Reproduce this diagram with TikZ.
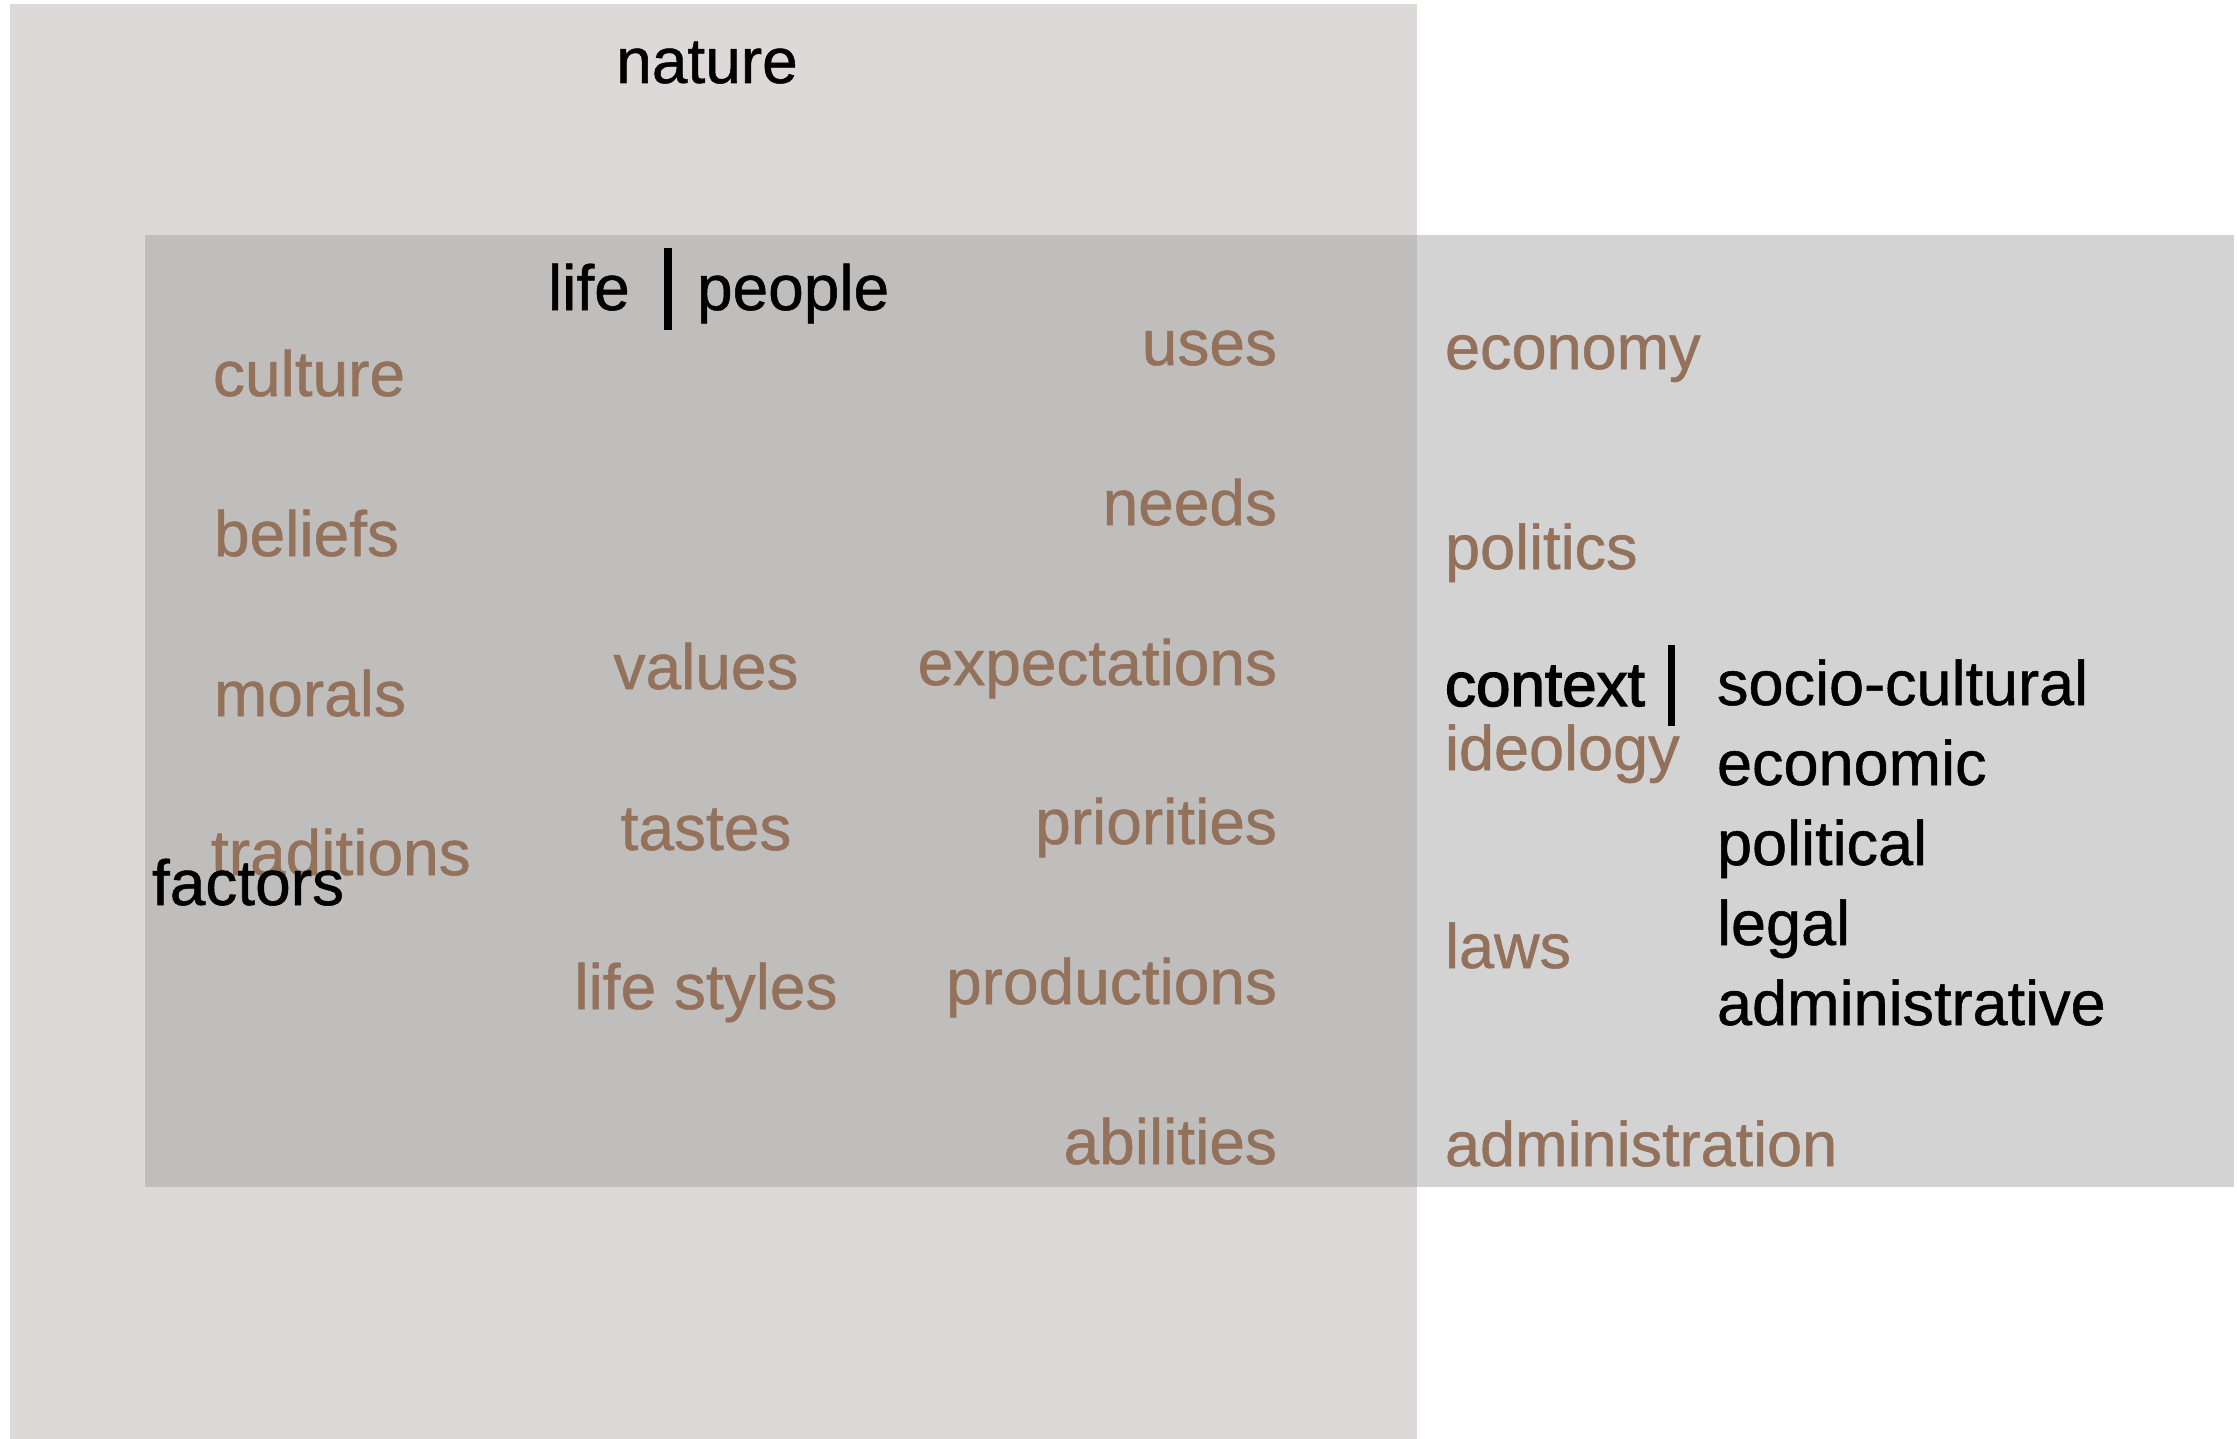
\documentclass[tikz,border=0pt]{standalone}
\usepackage{fontspec}
\setmainfont[FakeBold=0.8]{Liberation Sans}
\newfontfamily\ctxfont[FakeBold=2.2]{Liberation Sans}
\definecolor{outerbg}{RGB}{220,217,216}
\definecolor{overlapbg}{RGB}{192,190,188}
\definecolor{rightbg}{RGB}{211,211,211}
\definecolor{brown}{RGB}{147,113,91}
\tikzset{
  lbl/.style={inner sep=0pt, outer sep=0pt, font=\fontsize{64}{77}\selectfont},
  rlbl/.style={inner sep=0pt, outer sep=0pt, font=\fontsize{63}{76}\selectfont},
  brn/.style={text=brown},
  blk/.style={text=black},
}
\begin{document}
\begin{tikzpicture}[x=1pt,y=-1pt]
\useasboundingbox (0,0) rectangle (2237,1439);
% areas
\fill[outerbg] (10,4) rectangle (1417,1439);
\fill[rightbg] (1417,235) rectangle (2234,1187);
\fill[overlapbg] (145,235) rectangle (1417,1187);
% titles
\node[lbl,blk,anchor=base] (nature) at (707,83) {nature};
\node[lbl,blk,anchor=base west] (life) at (548,310) {life};
\node[lbl,blk,anchor=base west] (people) at (697,310) {people};
\fill[black] (664,248) rectangle (672,330);
% left column
\node[lbl,brn,anchor=base west] (culture) at (213,396) {culture};
\node[lbl,brn,anchor=base west] (beliefs) at (214,556) {beliefs};
\node[lbl,brn,anchor=base west] (morals) at (214,716) {morals};
\node[lbl,brn,anchor=base west] (traditions) at (211,875) {traditions};
\node[lbl,blk,anchor=base west] (factors) at (152,905) {factors};
% middle column
\node[lbl,brn,anchor=base] (values) at (706,689) {values};
\node[lbl,brn,anchor=base] (tastes) at (706,850) {tastes};
\node[lbl,brn,anchor=base] (lifestyles) at (706,1009) {life styles};
% right column of inner box
\node[lbl,brn,anchor=base east] (uses) at (1277,365) {uses};
\node[lbl,brn,anchor=base east] (needs) at (1277,525) {needs};
\node[lbl,brn,anchor=base east] (expectations) at (1277,685) {expectations};
\node[lbl,brn,anchor=base east] (priorities) at (1277,844) {priorities};
\node[lbl,brn,anchor=base east] (productions) at (1277,1004) {productions};
\node[lbl,brn,anchor=base east] (abilities) at (1277,1164) {abilities};
% right box
\node[rlbl,brn,anchor=base west] (economy) at (1445,369) {economy};
\node[rlbl,brn,anchor=base west] (politics) at (1445,569) {politics};
\node[rlbl,blk,anchor=base west,font=\ctxfont\fontsize{62}{76}\selectfont] (context) at (1445,706) {context};
\fill[black] (1668,645) rectangle (1675,726);
\node[rlbl,brn,anchor=base west] (ideology) at (1445,770) {ideology};
\node[rlbl,brn,anchor=base west] (laws) at (1445,968) {laws};
\node[rlbl,brn,anchor=base west] (administration) at (1445,1166) {administration};
\node[rlbl,blk,anchor=base west] (sociocultural) at (1717,705) {socio-cultural};
\node[rlbl,blk,anchor=base west] (economic) at (1717,785) {economic};
\node[rlbl,blk,anchor=base west] (political) at (1717,865) {political};
\node[rlbl,blk,anchor=base west] (legal) at (1717,945) {legal};
\node[rlbl,blk,anchor=base west] (administrative) at (1717,1025) {administrative};
\end{tikzpicture}
\end{document}
